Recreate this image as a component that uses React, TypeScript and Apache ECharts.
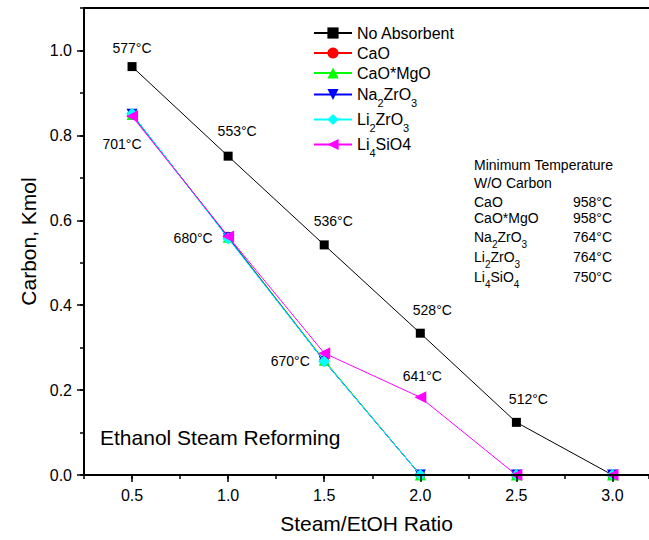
import React, { useEffect, useRef } from "react";
import * as echarts from "echarts";

// Steam/EtOH molar ratio on the x axis
const ratios = [0.5, 1.0, 1.5, 2.0, 2.5, 3.0];

// Carbon formed (kmol) for each case
const noAbsorbent = [0.962, 0.751, 0.542, 0.334, 0.124, 0.0];
const cao = [0.848, 0.561, 0.269, 0.0, 0.0, 0.0];
const caoMgo = [0.849, 0.56, 0.27, 0.0, 0.0, 0.0];
const na2zro3 = [0.85, 0.559, 0.268, 0.0, 0.0, 0.0];
const li2zro3 = [0.851, 0.557, 0.268, 0.0, 0.0, 0.0];
const li4sio4 = [0.845, 0.562, 0.287, 0.183, 0.0, 0.0];

// Temperatures written next to the points
const noAbsorbentTemps = ["577°C", "553°C", "536°C", "528°C", "512°C", ""];
const sorbentTemps = ["701°C", "680°C", "670°C", "", "", ""];
const li4sio4Temps = ["", "", "", "641°C", "", ""];

// Label offsets (px) from each point
const noAbsorbentOffsets = [[0, -19], [9, -25], [9, -24], [12, -23], [12, -23], [0, 0]];
const sorbentOffsets = [[-10, 29], [-35, 1], [-34, 0], [0, 0], [0, 0], [0, 0]];
const li4sio4Offsets = [[0, 0], [0, 0], [0, 0], [2, -21], [0, 0], [0, 0]];

// Series names and their legend texts (with subscripts)
const seriesNames = ["No Absorbent", "CaO", "CaO*MgO", "Na2ZrO3", "Li2ZrO3", "Li4SiO4"];
const legendTexts = ["No Absorbent", "CaO", "CaO*MgO", "Na{s|2}ZrO{s|3}", "Li{s|2}ZrO{s|3}", "Li{s|4}SiO4"];

// Axis ticks
const xMajorTicks = [0.5, 1.0, 1.5, 2.0, 2.5, 3.0];
const yMajorTicks = [0.0, 0.2, 0.4, 0.6, 0.8, 1.0];

// Side table
const tableTitle = ["Minimum Temperature", "W/O Carbon"];
const tableSorbents = ["CaO", "CaO*MgO", "Na{s|2}ZrO{s|3}", "Li{s|2}ZrO{s|3}", "Li{s|4}SiO{s|4}"];
const tableTemps = ["958°C", "958°C", "764°C", "764°C", "750°C"];

const FONT = '"Liberation Sans", Arial, Helvetica, sans-serif';

function buildData(values: number[], texts: string[], offsets: number[][]) {
  return ratios.map((x, i) => ({
    value: [x, values[i]],
    label: {
      show: texts[i] !== "",
      formatter: texts[i],
      position: "inside",
      offset: offsets[i],
      color: "#000",
      fontSize: 14,
      fontFamily: FONT,
    },
  }));
}

export default function App() {
  const ref = useRef<HTMLDivElement>(null);

  useEffect(() => {
    if (!ref.current) return;
    const chart = echarts.init(ref.current, undefined, { renderer: "svg" });

    const seriesDefs = [
      { values: noAbsorbent, color: "#000000", symbol: "rect", size: 9, rotate: 0, texts: noAbsorbentTemps, offsets: noAbsorbentOffsets },
      { values: cao, color: "#ff0000", symbol: "circle", size: 10, rotate: 0, texts: sorbentTemps, offsets: sorbentOffsets },
      { values: caoMgo, color: "#00ff00", symbol: "triangle", size: 11, rotate: 0, texts: null, offsets: null },
      { values: na2zro3, color: "#0000ff", symbol: "triangle", size: 11, rotate: 180, texts: null, offsets: null },
      { values: li2zro3, color: "#00ffff", symbol: "diamond", size: 12, rotate: 0, texts: null, offsets: null },
      { values: li4sio4, color: "#ff00ff", symbol: "triangle", size: 12, rotate: 90, texts: li4sio4Temps, offsets: li4sio4Offsets },
    ];

    const series = seriesDefs.map((d, i) => ({
      type: "line",
      name: seriesNames[i],
      xAxisIndex: 0,
      yAxisIndex: 0,
      data: d.texts
        ? buildData(d.values, d.texts, d.offsets as number[][])
        : ratios.map((x, j) => [x, d.values[j]]),
      symbol: d.symbol,
      symbolSize: d.size,
      symbolRotate: d.rotate,
      showAllSymbol: true,
      color: d.color,
      lineStyle: { color: d.color, width: 1 },
      itemStyle: { color: d.color },
      emphasis: { disabled: true },
      z: 3 + i,
    }));

    // One legend block per entry so that each row sits at its own height
    const legendTops = [25, 45, 65, 81, 106, 131];
    const legends = seriesNames.map((name, i) => ({
      show: true,
      orient: "vertical",
      left: 313,
      top: legendTops[i],
      padding: 0,
      itemWidth: 38,
      itemHeight: 14,
      selectedMode: false,
      data: [name],
      formatter: () => legendTexts[i],
      textStyle: {
        fontSize: 16,
        fontFamily: FONT,
        color: "#000",
        rich: { s: { fontSize: 11, fontFamily: FONT, color: "#000", padding: [16, 0, 0, 0], lineHeight: 21 } },
      },
    }));

    const tableRowsY = [202, 218, 237, 257, 277];
    const graphic: any[] = [
      {
        type: "text",
        left: 100,
        top: 427,
        style: { text: "Ethanol Steam Reforming", fontSize: 21, fontFamily: FONT, fill: "#000" },
      },
      ...tableTitle.map((t, i) => ({
        type: "text",
        x: 474,
        y: 165 + i * 18,
        style: { text: t, fontSize: 14, fontFamily: FONT, fill: "#000", verticalAlign: "middle" },
      })),
      ...tableSorbents.map((t, i) => ({
        type: "text",
        x: 474,
        y: tableRowsY[i],
        style: {
          text: t,
          fontSize: 14,
          fontFamily: FONT,
          fill: "#000",
          verticalAlign: "middle",
          rich: { s: { fontSize: 10, fontFamily: FONT, fill: "#000", padding: [14, 0, 0, 0], lineHeight: 17 } },
        },
      })),
      ...tableTemps.map((t, i) => ({
        type: "text",
        x: 573,
        y: tableRowsY[i],
        style: { text: t, fontSize: 14, fontFamily: FONT, fill: "#000", verticalAlign: "middle" },
      })),
    ];

    const xMin = 0.25;
    const xMax = 3.19;
    const yMin = 0;
    const yMax = 1.1;

    chart.setOption({
      animation: false,
      textStyle: { fontFamily: FONT },
      grid: { left: 84, right: 0, top: 8, bottom: 65, containLabel: false, outerBoundsMode: "none" },
      legend: legends,
      xAxis: [
        {
          type: "value",
          min: xMin,
          max: xMax,
          position: "bottom",
          name: "Steam/EtOH Ratio",
          nameLocation: "middle",
          nameGap: 38,
          nameTextStyle: { fontSize: 21, fontFamily: FONT, color: "#000" },
          axisLine: { show: true, onZero: false, lineStyle: { color: "#000", width: 2 } },
          axisTick: { show: true, customValues: xMajorTicks, length: 7, lineStyle: { color: "#000", width: 1.5 } },
          axisLabel: {
            customValues: xMajorTicks,
            formatter: (v: number) => v.toFixed(1),
            fontSize: 16,
            fontFamily: FONT,
            color: "#000",
            margin: 12,
          },
          splitLine: { show: false },
          z: 10,
        },
        {
          type: "value",
          min: xMin,
          max: xMax,
          interval: 0.25,
          position: "bottom",
          axisLine: { show: false },
          axisTick: { show: true, length: 4, lineStyle: { color: "#000", width: 1.5 } },
          axisLabel: { show: false },
          splitLine: { show: false },
        },
        {
          type: "value",
          min: xMin,
          max: xMax,
          position: "top",
          axisLine: { show: true, onZero: false, lineStyle: { color: "#000", width: 2 } },
          axisTick: { show: false },
          axisLabel: { show: false },
          splitLine: { show: false },
        },
      ],
      yAxis: [
        {
          type: "value",
          min: yMin,
          max: yMax,
          position: "left",
          name: "Carbon, Kmol",
          nameLocation: "middle",
          nameGap: 45,
          nameTextStyle: { fontSize: 21, fontFamily: FONT, color: "#000" },
          axisLine: { show: true, onZero: false, lineStyle: { color: "#000", width: 2 } },
          axisTick: { show: true, customValues: yMajorTicks, length: 7, lineStyle: { color: "#000", width: 1.5 } },
          axisLabel: {
            customValues: yMajorTicks,
            formatter: (v: number) => v.toFixed(1),
            fontSize: 16,
            fontFamily: FONT,
            color: "#000",
            margin: 12,
          },
          splitLine: { show: false },
          z: 10,
        },
        {
          type: "value",
          min: yMin,
          max: yMax,
          interval: 0.1,
          position: "left",
          axisLine: { show: false },
          axisTick: { show: true, length: 4, lineStyle: { color: "#000", width: 1.5 } },
          axisLabel: { show: false },
          splitLine: { show: false },
        },
      ],
      series,
      graphic,
    });

    return () => chart.dispose();
  }, []);

  return <div ref={ref} style={{ width: 649, height: 540, position: "absolute", left: 0, top: 0, background: "#fff" }} />;
}
